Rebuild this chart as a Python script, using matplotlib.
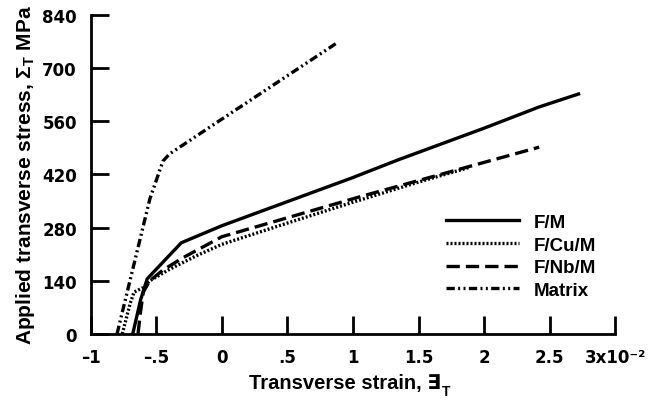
# Transverse stress-strain curves for fiber/matrix composites with interface coatings

import numpy as np
import matplotlib.pyplot as plt

plt.rcParams['font.family'] = ['Liberation Sans', 'DejaVu Sans']
plt.rcParams['mathtext.fontset'] = 'custom'
plt.rcParams['mathtext.rm'] = 'Liberation Sans'
plt.rcParams['mathtext.it'] = 'Liberation Sans'
plt.rcParams['mathtext.bf'] = 'Liberation Sans:bold'

# strain in units of 1e-2, stress in MPa
fm_strain = [-0.68, -0.62, -0.57, -0.31, 0.0, 1.0, 1.34, 2.0, 2.42, 2.72]
fm_stress = [0, 90, 145, 240, 285, 412, 458, 542, 598, 632]

fcu_strain = [-0.76, -0.70, -0.67, -0.60, -0.55, -0.40, -0.20, 0.0, 0.5, 1.0, 1.5, 1.88]
fcu_stress = [0, 80, 110, 122, 140, 170, 205, 236, 292, 347, 400, 438]

fnb_strain = [-0.64, -0.62, -0.60, -0.55, -0.45, -0.30, 0.0, 1.06, 2.42]
fnb_stress = [0, 60, 110, 140, 168, 200, 256, 362, 492]

mat_strain = [-0.80, -0.55, -0.45, -0.40, 0.0, 0.87]
mat_stress = [0, 355, 455, 474, 566, 765]

xticks = [-1, -0.5, 0, 0.5, 1, 1.5, 2, 2.5, 3]
xtick_labels = ['\u20131', '\u2013.5', '0', '.5', '1', '1.5', '2', '2.5', '3x10\u207b\u00b2']
yticks = [0, 140, 280, 420, 560, 700, 840]
ytick_labels = ['0', '140', '280', '420', '560', '700', '840']

fig = plt.figure(figsize=(6.58, 4.02), dpi=100)
ax = fig.add_axes([0.138, 0.167, 0.797, 0.793])

lw = 2.4
ax.plot(fm_strain, fm_stress, color='black', lw=lw, label='F/M')
ax.plot(fcu_strain, fcu_stress, color='black', lw=lw, linestyle=(0, (0.6, 0.6)), label='F/Cu/M')
ax.plot(fnb_strain, fnb_stress, color='black', lw=lw, linestyle=(0, (4, 1.8)), label='F/Nb/M')
ax.plot(mat_strain, mat_stress, color='black', lw=lw, linestyle=(0, (2.5, 1, 0.6, 1, 0.6, 1)), label='Matrix')

ax.set_xlim(-1, 3)
ax.set_ylim(0, 840)
ax.spines['top'].set_visible(False)
ax.spines['right'].set_visible(False)
ax.spines['left'].set_linewidth(2)
ax.spines['bottom'].set_linewidth(2)

tick_font = dict(fontfamily=['DejaVu Sans'], fontweight='bold', fontsize=12)
ax.set_xticks(xticks)
ax.set_xticklabels(xtick_labels, **tick_font)
ax.set_yticks(yticks)
ax.set_yticklabels(ytick_labels, **tick_font)
ax.tick_params(axis='both', direction='in', length=13, width=2)
ax.tick_params(axis='x', pad=10)
ax.tick_params(axis='y', pad=10)

xlab = ax.set_xlabel('Transverse strain, \u2203', fontsize=14.5, fontweight='bold', labelpad=5)
xlab.set_x(0.485)
ax.annotate('T', xy=(1.0, 0.05), xycoords=xlab, xytext=(0.5, 0), textcoords='offset points',
            ha='left', va='center', fontsize=10, fontweight='bold')
ax.set_ylabel('Applied transverse stress, \u03a3$_\\mathregular{T}$ MPa', fontsize=15, fontweight='bold', labelpad=4)

leg = ax.legend(loc='upper left', bbox_to_anchor=(0.645, 0.43), frameon=False,
                handlelength=3.9, labelspacing=0.3, handletextpad=0.8,
                prop={'size': 13.5, 'weight': 'bold'})

fig.savefig('out.png', dpi=100)
